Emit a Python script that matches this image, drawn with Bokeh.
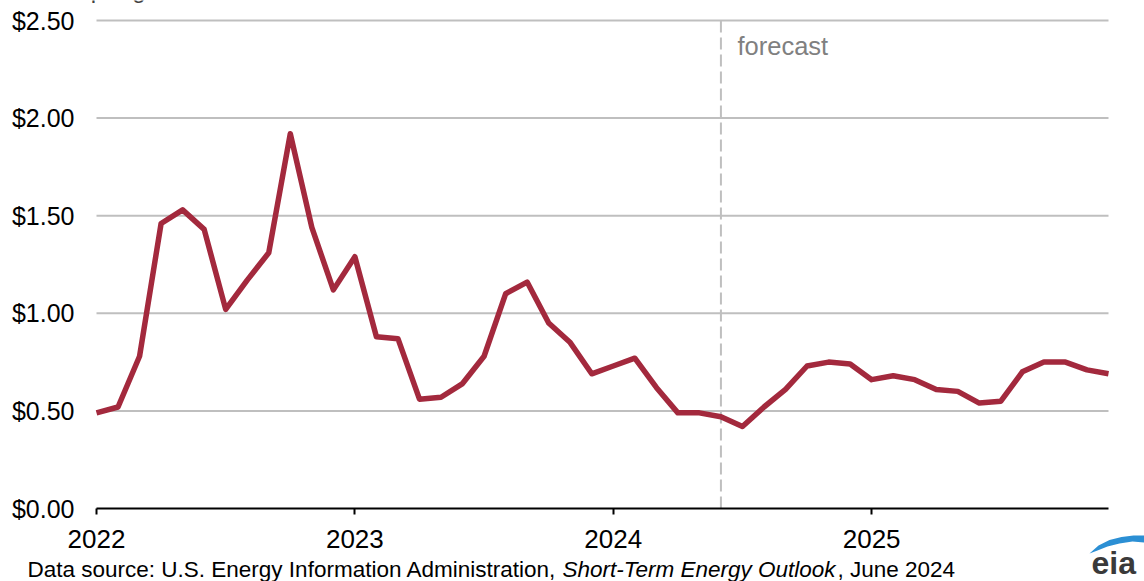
from bokeh.plotting import figure
from bokeh.models import (Range1d, FixedTicker, NumeralTickFormatter, Label,
                          PolyAnnotation)
from bokeh.embed import file_html
from bokeh.resources import INLINE

# Monthly price, dollars per gallon, Jan 2022 - Dec 2025
months = [f"{y}-{m:02d}" for y in (2022, 2023, 2024, 2025) for m in range(1, 13)]
price = [0.49, 0.52, 0.78, 1.46, 1.53, 1.43, 1.02, 1.17, 1.31, 1.92, 1.44, 1.12,
         1.29, 0.88, 0.87, 0.56, 0.57, 0.64, 0.78, 1.10, 1.16, 0.95, 0.85, 0.69,
         0.73, 0.77, 0.62, 0.49, 0.49, 0.47, 0.42, 0.52, 0.61, 0.73, 0.75, 0.74,
         0.66, 0.68, 0.66, 0.61, 0.60, 0.54, 0.55, 0.70, 0.75, 0.75, 0.71, 0.69]
year_labels = ["2022", "2023", "2024", "2025"]
y_ticks = [0.0, 0.5, 1.0, 1.5, 2.0, 2.5]
forecast_start = "2024-06"

x = list(range(len(months)))
x_last = len(months) - 1
y_top = y_ticks[-1]

W, H = 1144, 581
# plotting area inside the canvas (pixels)
PL, PR, PT, PB = 96, 1108, 20, 508
FONT = "Liberation Sans"
LINE_COLOR = "#a3293d"
GRID_COLOR = "#bfbfbf"

# the frame spans the whole canvas; the axes sit at fixed data locations
kx = x_last / (PR - PL)
ky = y_top / (PB - PT)
p = figure(width=W, height=H, output_backend="svg", toolbar_location=None,
           x_range=Range1d(-PL * kx, (W - PL) * kx),
           y_range=Range1d(-(H - PB) * ky, PB * ky),
           min_border_left=0, min_border_right=0,
           min_border_top=0, min_border_bottom=0)
p.outline_line_color = None
p.background_fill_color = "white"
p.border_fill_color = "white"
p.xgrid.grid_line_color = None
p.ygrid.grid_line_color = None

# horizontal grid lines across the plotting area only
p.segment(x0=0, x1=x_last, y0=y_ticks[1:], y1=y_ticks[1:],
          line_color=GRID_COLOR, line_width=2)

# forecast divider
fc = months.index(forecast_start)
p.segment(x0=fc, x1=fc, y0=0, y1=y_top, line_color=GRID_COLOR,
          line_width=2, line_dash="12 5")

p.line(x, price, line_color=LINE_COLOR, line_width=5.5, line_join="round")

# x axis: one tick per January
p.xaxis.fixed_location = 0
p.xaxis.bounds = (0, x_last)
p.xaxis.ticker = FixedTicker(ticks=[12 * i for i in range(len(year_labels))])
p.xaxis.major_label_overrides = {12 * i: lab for i, lab in enumerate(year_labels)}
p.xaxis.axis_line_color = "black"
p.xaxis.axis_line_width = 2
p.xaxis.major_tick_line_color = "black"
p.xaxis.major_tick_line_width = 2
p.xaxis.major_tick_in = 0
p.xaxis.major_tick_out = 6
p.xaxis.minor_tick_line_color = None
p.xaxis.major_label_text_font = FONT
p.xaxis.major_label_text_font_size = "26px"
p.xaxis.major_label_text_color = "black"
p.xaxis.major_label_standoff = 15

# y axis: labels only
p.yaxis.fixed_location = 0
p.yaxis.bounds = (0, y_top)
p.yaxis.ticker = FixedTicker(ticks=y_ticks)
p.yaxis.formatter = NumeralTickFormatter(format="$0.00")
p.yaxis.axis_line_color = None
p.yaxis.major_tick_line_color = None
p.yaxis.minor_tick_line_color = None
p.yaxis.major_tick_out = 0
p.yaxis.major_tick_in = 0
p.yaxis.major_label_text_font = FONT
p.yaxis.major_label_text_font_size = "25px"
p.yaxis.major_label_text_color = "black"
p.yaxis.major_label_standoff = 22


def canvas_label(text, px, baseline, size, color="black", style="normal"):
    # baseline given in canvas pixels from the top
    y_px = baseline - 0.4 * size
    return Label(x=px, y=H - y_px, x_units="screen", y_units="screen",
                 text=text, text_font=FONT, text_font_size=f"{size}px",
                 text_font_style=style, text_color=color,
                 text_baseline="alphabetic")


p.add_layout(canvas_label("forecast", 737, 56, 25.5, color="#808080"))

# unit title above the chart
p.add_layout(canvas_label("dollars per gallon", 13, -1.5, 24, color="#404040"))

# source line: regular, italic report title, regular date
FOOT = 22.5
src = [("Data source: U.S. Energy Information Administration, ", 27, "normal"),
       ("Short-Term Energy Outlook", 562, "italic"),
       (", June 2024", 837, "normal")]
for txt, px, style in src:
    p.add_layout(canvas_label(txt, px, 578, FOOT, style=style))

# eia logo
swoosh_px = [(1089, 553), (1098, 545), (1109, 539.5), (1121, 536.5), (1133, 535),
             (1144, 535), (1144, 542), (1132, 541), (1119, 543), (1107, 546),
             (1097, 550)]
p.add_layout(PolyAnnotation(xs=[a for a, b in swoosh_px],
                            ys=[H - b for a, b in swoosh_px],
                            xs_units="screen", ys_units="screen",
                            fill_color="#2b8fd4", fill_alpha=1.0,
                            line_color=None))
p.add_layout(canvas_label("eia", 1091, 575, 32, color="#3a3a3a", style="bold"))

open("out.html", "w").write(file_html(p, INLINE))
